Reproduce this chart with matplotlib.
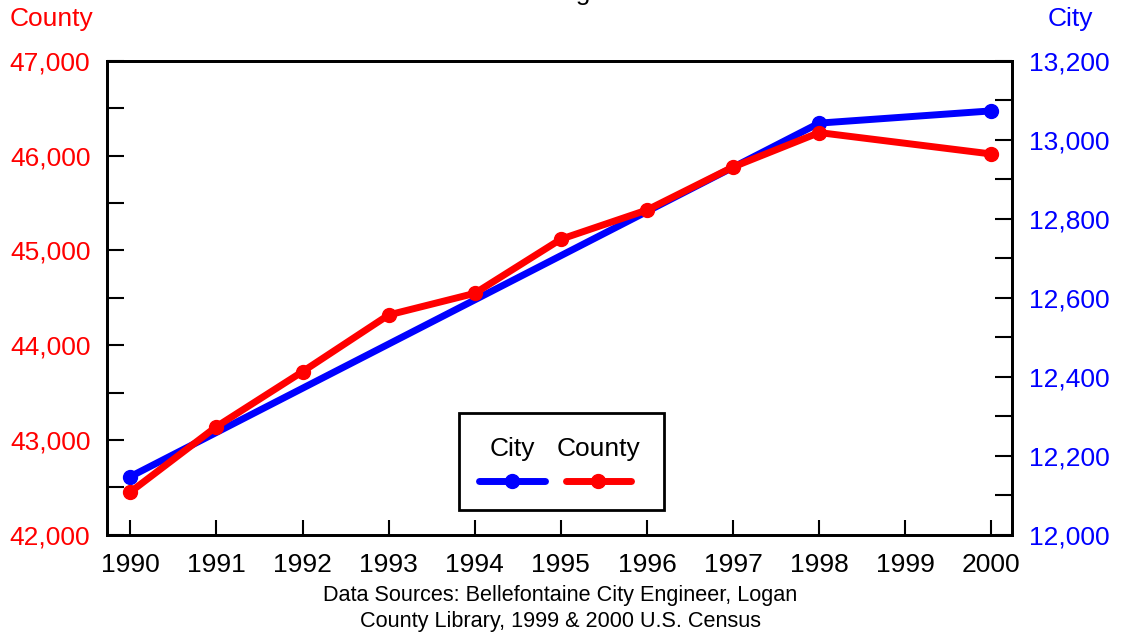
import matplotlib
matplotlib.use("Agg")
import matplotlib.pyplot as plt
from matplotlib.lines import Line2D
from matplotlib.patches import Rectangle
from matplotlib.ticker import FuncFormatter, MultipleLocator

plt.rcParams["font.family"] = ["Liberation Sans", "DejaVu Sans"]

# city population (right axis) - only census / estimate years
city_years = [1990, 1998, 2000]
city_pop = [12147, 13042, 13073]

# county population (left axis)
county_years = [1990, 1991, 1992, 1993, 1994, 1995, 1996, 1997, 1998, 2000]
county_pop = [42450, 43140, 43720, 44318, 44546, 45117, 45425, 45879, 46242, 46016]

year_ticks = list(range(1990, 2001))

TITLE = "Bellefontaine and Logan Census Totals"

RED = "#ff0000"
BLUE = "#0000ff"
comma = FuncFormatter(lambda v, _: f"{v:,.0f}")

fig = plt.figure(figsize=(11.21, 6.39), dpi=100)
ax = fig.add_axes([0.0955, 0.1632, 0.8073, 0.7418])
ax2 = ax.twinx()

ax2.plot(city_years, city_pop, color=BLUE, lw=5, marker="o", ms=10,
         solid_capstyle="round", zorder=2)
ax.plot(county_years, county_pop, color=RED, lw=5, marker="o", ms=10,
        solid_capstyle="round", zorder=3)
# county line drawn over the city line
ax.set_zorder(ax2.get_zorder() + 1)
ax.patch.set_visible(False)

ax.set_xlim(1989.73, 2000.24)
ax.set_ylim(42000, 47000)
ax2.set_ylim(12000, 13200)

ax.set_xticks(year_ticks)
ax.yaxis.set_major_locator(MultipleLocator(1000))
ax.yaxis.set_minor_locator(MultipleLocator(500))
ax.yaxis.set_major_formatter(comma)
ax2.yaxis.set_major_locator(MultipleLocator(200))
ax2.yaxis.set_minor_locator(MultipleLocator(100))
ax2.yaxis.set_major_formatter(comma)

ax.tick_params(axis="x", direction="in", length=11, width=1.5, labelsize=19, pad=13)
ax.tick_params(axis="y", which="both", direction="in", length=12, width=1.5,
               labelsize=19, labelcolor=RED, pad=12)
ax2.tick_params(axis="y", which="both", direction="in", length=12, width=1.5,
                labelsize=19, labelcolor=BLUE, pad=12)
ax.tick_params(axis="x", top=False)
for a in (ax, ax2):
    for s in a.spines.values():
        s.set_linewidth(2)

fig.text(0.009, 0.971, "County", color=RED, fontsize=19, ha="left", va="center")
fig.text(0.975, 0.971, "City", color=BLUE, fontsize=19, ha="right", va="center")

fig.text(0.5, 0.048, "Data Sources: Bellefontaine City Engineer, Logan\nCounty Library, 1999 & 2000 U.S. Census",
         ha="center", va="center", fontsize=15.6, linespacing=1.35)

# title sits mostly above the visible canvas; only the "g" tail shows
title = fig.text(0, 1.0, TITLE, ha="left", va="baseline", fontsize=19)
renderer = fig.canvas.get_renderer()
probe = fig.text(0, 0, TITLE[:TITLE.index("g")], fontsize=19)
pre_w = probe.get_window_extent(renderer).width
probe.remove()
title.set_x((582 - pre_w - 6) / fig.bbox.width)

# legend: labels above the line samples, inside a box
box = Rectangle((0.3884, 0.053), 0.2265, 0.2045, transform=ax.transAxes,
                fill=True, facecolor="white", edgecolor="black", lw=2, zorder=5)
ax.add_patch(box)
for cx, label, col in [(0.4475, "City", BLUE), (0.543, "County", RED)]:
    ax.text(cx, 0.18, label, transform=ax.transAxes, ha="center", va="center",
            fontsize=19, zorder=6)
    ax.add_line(Line2D([cx - 0.036, cx + 0.036], [0.113, 0.113], transform=ax.transAxes,
                       color=col, lw=5, solid_capstyle="round", zorder=6))
    ax.add_line(Line2D([cx], [0.113], transform=ax.transAxes, color=col, marker="o",
                       ms=10, zorder=7))

fig.savefig("out.png", dpi=100)
